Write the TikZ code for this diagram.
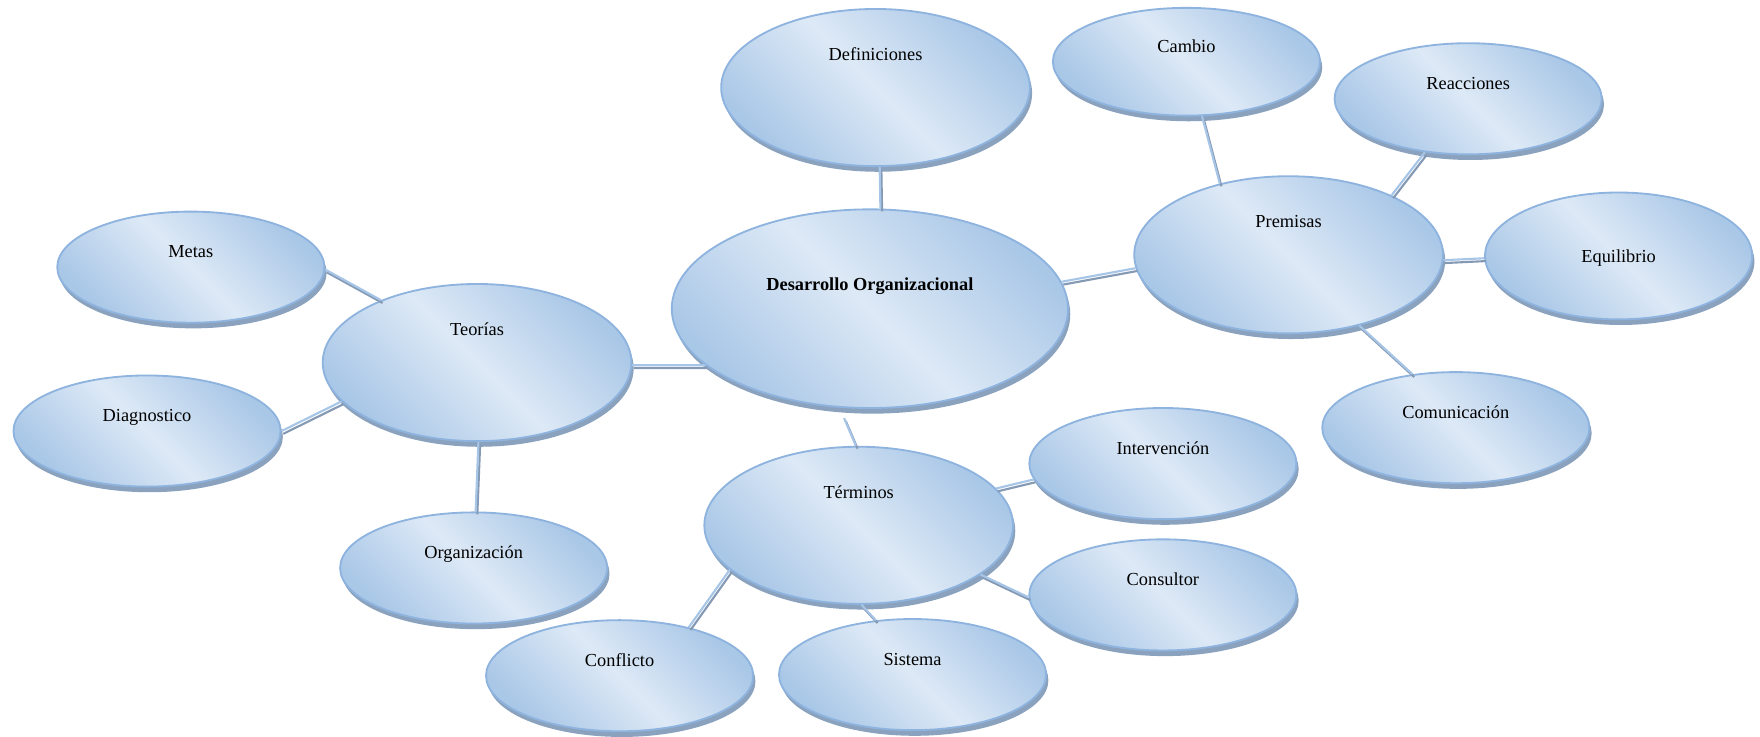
\documentclass[tikz,border=0pt]{standalone}
\usepackage{fontspec}
\setmainfont{Liberation Serif}
\usetikzlibrary{shapes.geometric,shadows}
\definecolor{ovlight}{HTML}{DDE9F6}
\definecolor{ovdark}{HTML}{A9C7E7}
\definecolor{ovborder}{HTML}{8DB3DE}
\definecolor{ovshadow}{HTML}{8AA2BD}
\definecolor{linklight}{HTML}{A6C5E7}
\definecolor{linkdark}{HTML}{8499B3}
\begin{document}
\begin{tikzpicture}[x=0.7955pt,y=-0.7955pt,
    oval/.style={ellipse,draw=ovborder,line width=1.3pt,
      top color=ovdark,bottom color=ovdark,middle color=ovlight,shading angle=-45,
      drop shadow={shadow xshift=1.6pt,shadow yshift=-4pt,fill=ovshadow,opacity=1},
      font=\fontsize{13}{15}\selectfont,inner sep=0pt},
    mainoval/.style={oval,minimum width=353*0.7955pt,minimum height=177*0.7955pt,
      text height=8pt,text depth=33.4pt,font=\fontsize{13}{15}\selectfont\bfseries},
    bigoval/.style={oval,minimum width=275*0.7955pt,minimum height=140*0.7955pt,
      text height=8pt,text depth=46pt},
    smalloval/.style={oval,minimum width=238*0.7955pt,minimum height=99*0.7955pt,
      text height=8pt,text depth=21.5pt},
    link/.style={draw=linklight,line width=1.5pt,
      preaction={draw=linkdark,line width=1.5pt,transform canvas={shift={(1.2pt,-2pt)}}}}]
        \useasboundingbox (0,0) rectangle (1568,656);
        %% Main concepts
        \node[mainoval] (desa) at (775,275) {Desarrollo Organizacional};
        \node[bigoval] (defi) at (780,78) {Definiciones};
        \node[bigoval] (prem) at (1148,227) {Premisas};
        \node[bigoval] (teor) at (425,323) {Teorías};
        \node[bigoval] (term) at (765,468) {Términos};
        %% Premisas
        \node[smalloval,minimum height=96*0.7955pt] (camb) at (1057,55) {Cambio};
        \node[smalloval] (reac) at (1308,88) {Reacciones};
        \node[smalloval,minimum height=113*0.7955pt,text height=12.7pt,text depth=3.2pt] (equi) at (1442,228) {Equilibrio};
        \node[smalloval] (comu) at (1297,381) {Comunicación};
        %% Teorias
        \node[smalloval] (meta) at (170,238) {Metas};
        \node[smalloval] (diag) at (131,384) {Diagnostico};
        \node[smalloval] (orga) at (422,506) {Organización};
        %% Terminos
        \node[smalloval] (inte) at (1036,413) {Intervención};
        \node[smalloval] (cons) at (1036,530) {Consultor};
        \node[smalloval] (conf) at (552,602) {Conflicto};
        \node[smalloval] (sist) at (813,601) {Sistema};
        %% Links
        \draw[link] (defi.-87) -- (desa.84);
        \draw[link] (teor.-1) -- (desa.199);
        \draw[link] (desa.8) -- (prem.185);
        \draw[link,shorten <=8pt] (desa.-107) -- (term.92);
        \draw[link] (camb.-74) -- (prem.134);
        \draw[link] (reac.-129) -- (prem.30);
        \draw[link] (prem.-2) -- (equi.181);
        \draw[link] (prem.-45) -- (comu.129);
        \draw[link] (meta.-1) -- (teor.147);
        \draw[link] (diag.0) -- (teor.196);
        \draw[link] (teor.-89) -- (orga.88);
        \draw[link] (term.15) -- (inte.187);
        \draw[link] (term.-22) -- (cons.181);
        \draw[link] (term.-161) -- (conf.35);
        \draw[link] (term.-88) -- (sist.124);
    \end{tikzpicture}
\end{document}
